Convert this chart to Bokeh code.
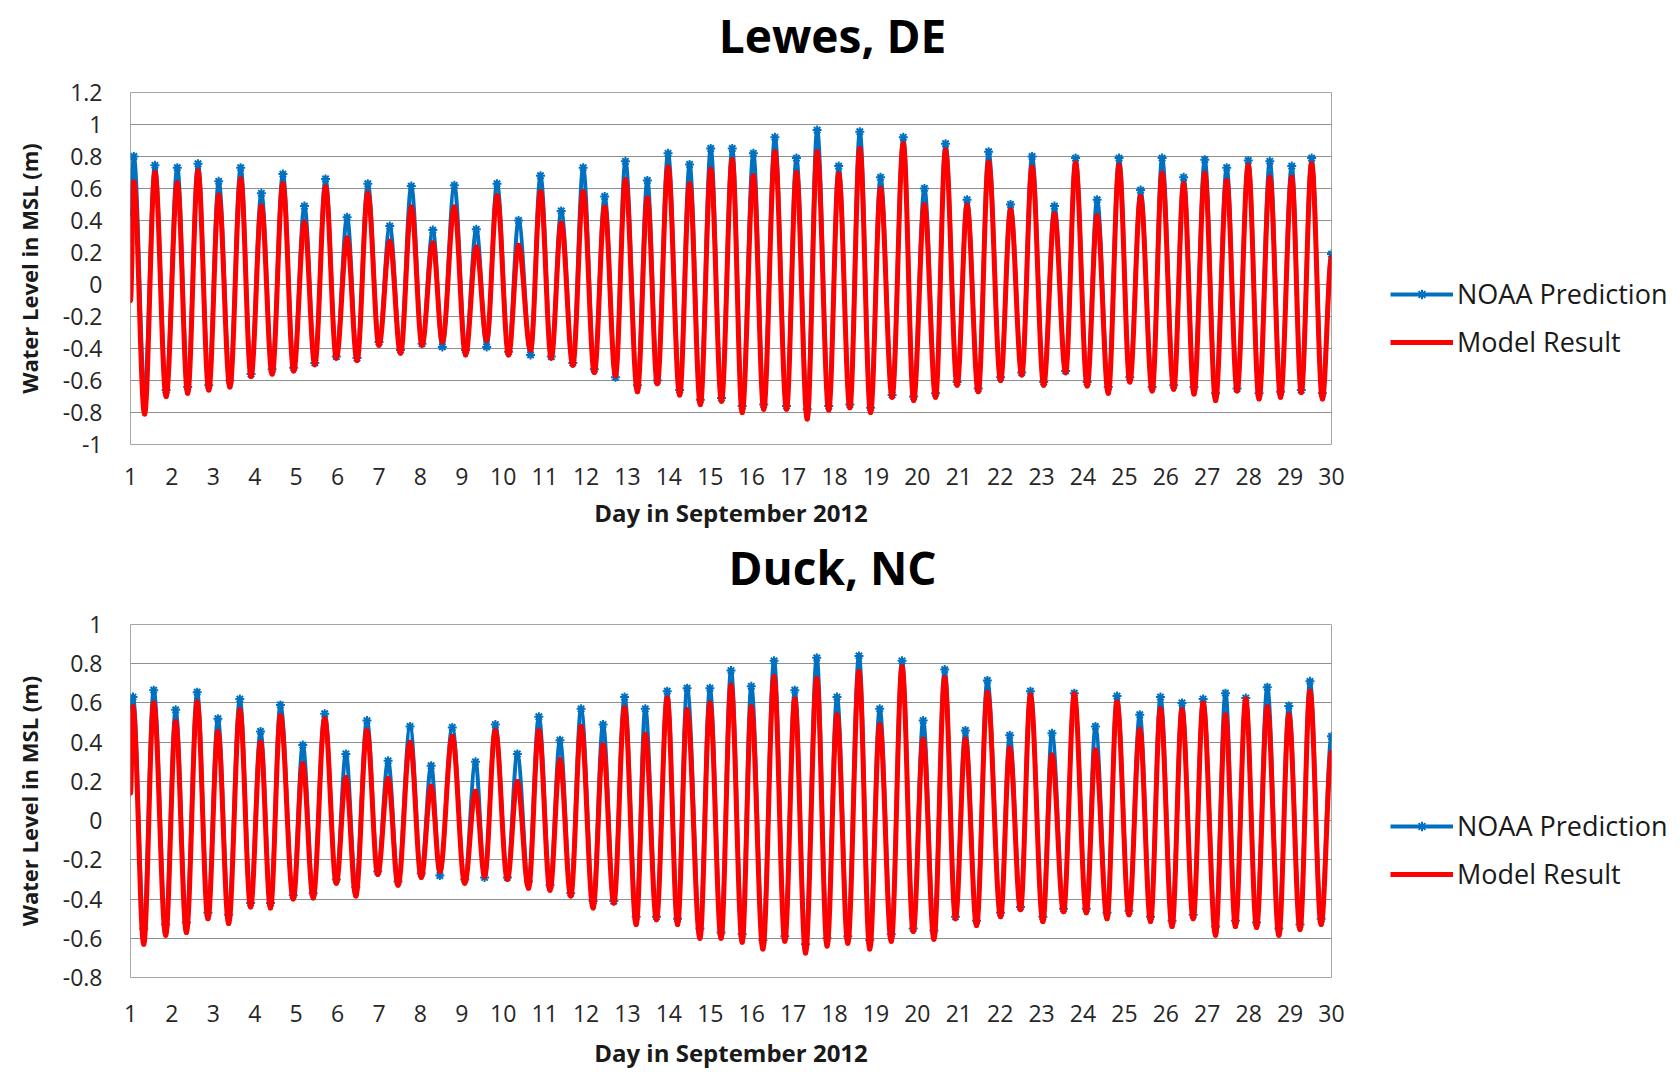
import numpy as np
from bokeh.plotting import figure
from bokeh.models import (ColumnDataSource, FixedTicker, CustomJSTickFormatter,
                          Legend, LegendItem, Range1d, LinearAxis)
from bokeh.layouts import column, row
from bokeh.embed import file_html
from bokeh.resources import INLINE

# ---------------- data ----------------
day_ticks = list(range(1, 31))
lewes_yticks = [-1, -0.8, -0.6, -0.4, -0.2, 0, 0.2, 0.4, 0.6, 0.8, 1, 1.2]
duck_yticks = [-0.8, -0.6, -0.4, -0.2, 0, 0.2, 0.4, 0.6, 0.8, 1]
series_names = ["NOAA Prediction", "Model Result"]

# times (day of September 2012) of successive high / low waters, Lewes DE
lewes_t = [1.00, 1.08, 1.34, 1.59, 1.86, 2.13, 2.38, 2.63, 2.89, 3.13, 3.40,
           3.66, 3.91, 4.16, 4.42, 4.68, 4.94, 5.20, 5.45, 5.71, 5.97,
           6.23, 6.47, 6.73, 7.00, 7.26, 7.52, 7.78, 8.04, 8.30, 8.53,
           8.82, 9.09, 9.35, 9.60, 9.85, 10.13, 10.37, 10.66, 10.90, 11.16,
           11.40, 11.68, 11.93, 12.20, 12.45, 12.71, 12.95, 13.24, 13.48, 13.72,
           13.98, 14.26, 14.50, 14.76, 15.01, 15.27, 15.53, 15.77, 16.04, 16.29,
           16.56, 16.84, 17.08, 17.34, 17.58, 17.86, 18.10, 18.37, 18.61, 18.87,
           19.11, 19.39, 19.66, 19.91, 20.17, 20.44, 20.68, 20.96, 21.20, 21.47,
           21.72, 22.01, 22.25, 22.52, 22.77, 23.05, 23.31, 23.58, 23.82, 24.10,
           24.34, 24.61, 24.87, 25.13, 25.39, 25.67, 25.91, 26.19, 26.43, 26.68,
           26.94, 27.20, 27.47, 27.72, 27.99, 28.25, 28.51, 28.77, 29.04, 29.27,
           29.52, 29.78, 30.00]
lewes_noaa = [0.44, 0.80, -0.66, 0.745, -0.66, 0.73, -0.64, 0.755, -0.63, 0.645, -0.60,
              0.73, -0.56, 0.57, -0.53, 0.69, -0.52, 0.49, -0.49, 0.66, -0.45,
              0.42, -0.46, 0.63, -0.36, 0.365, -0.41, 0.615, -0.37, 0.34, -0.39,
              0.62, -0.41, 0.345, -0.39, 0.63, -0.42, 0.40, -0.44, 0.68, -0.45,
              0.46, -0.49, 0.73, -0.53, 0.55, -0.58, 0.77, -0.63, 0.65, -0.60,
              0.82, -0.66, 0.75, -0.72, 0.85, -0.71, 0.85, -0.76, 0.82, -0.75,
              0.92, -0.76, 0.79, -0.78, 0.965, -0.76, 0.74, -0.75, 0.955, -0.77,
              0.67, -0.69, 0.92, -0.70, 0.60, -0.68, 0.88, -0.61, 0.53, -0.65,
              0.83, -0.58, 0.50, -0.55, 0.80, -0.61, 0.49, -0.54, 0.79, -0.61,
              0.53, -0.64, 0.79, -0.58, 0.59, -0.64, 0.79, -0.63, 0.67, -0.64,
              0.78, -0.68, 0.73, -0.65, 0.775, -0.68, 0.77, -0.67, 0.74, -0.66,
              0.79, -0.68, 0.19]
lewes_model = [-0.10, 0.64, -0.81, 0.70, -0.70, 0.635, -0.68, 0.71, -0.66, 0.56, -0.64,
               0.66, -0.575, 0.49, -0.56, 0.63, -0.54, 0.39, -0.50, 0.61, -0.46,
               0.29, -0.475, 0.57, -0.38, 0.27, -0.43, 0.485, -0.38, 0.26, -0.36,
               0.485, -0.44, 0.235, -0.35, 0.555, -0.44, 0.245, -0.41, 0.58, -0.46,
               0.385, -0.505, 0.58, -0.55, 0.485, -0.57, 0.655, -0.67, 0.54, -0.62,
               0.735, -0.69, 0.63, -0.75, 0.72, -0.73, 0.78, -0.80, 0.68, -0.78,
               0.83, -0.78, 0.70, -0.84, 0.83, -0.785, 0.69, -0.77, 0.85, -0.80,
               0.60, -0.705, 0.88, -0.725, 0.50, -0.705, 0.84, -0.63, 0.495, -0.67,
               0.765, -0.60, 0.465, -0.565, 0.735, -0.63, 0.44, -0.55, 0.76, -0.635,
               0.43, -0.68, 0.745, -0.61, 0.55, -0.665, 0.695, -0.655, 0.63, -0.685,
               0.695, -0.725, 0.65, -0.665, 0.745, -0.715, 0.67, -0.705, 0.67, -0.675,
               0.755, -0.715, 0.17]

# Duck NC
duck_t = [1.00, 1.06, 1.32, 1.56, 1.85, 2.09, 2.35, 2.61, 2.87, 3.11, 3.37,
          3.64, 3.90, 4.14, 4.38, 4.62, 4.93, 5.16, 5.41, 5.69, 5.97,
          6.20, 6.44, 6.71, 6.97, 7.22, 7.46, 7.75, 8.02, 8.26, 8.47,
          8.77, 9.07, 9.33, 9.55, 9.81, 10.10, 10.34, 10.61, 10.86, 11.13,
          11.37, 11.63, 11.88, 12.17, 12.41, 12.67, 12.93, 13.21, 13.43, 13.70,
          13.96, 14.21, 14.44, 14.75, 14.99, 15.26, 15.50, 15.77, 15.99, 16.27,
          16.54, 16.80, 17.04, 17.30, 17.57, 17.82, 18.06, 18.32, 18.59, 18.85,
          19.09, 19.37, 19.63, 19.90, 20.14, 20.40, 20.66, 20.92, 21.16, 21.43,
          21.69, 22.01, 22.23, 22.49, 22.73, 23.03, 23.25, 23.53, 23.79, 24.08,
          24.30, 24.58, 24.82, 25.11, 25.37, 25.63, 25.87, 26.15, 26.39, 26.66,
          26.90, 27.20, 27.44, 27.68, 27.93, 28.19, 28.45, 28.73, 28.97, 29.24,
          29.48, 29.75, 30.00]
duck_noaa = [0.58, 0.63, -0.55, 0.665, -0.53, 0.565, -0.52, 0.655, -0.47, 0.52, -0.48,
             0.62, -0.42, 0.455, -0.42, 0.59, -0.38, 0.385, -0.37, 0.545, -0.30,
             0.34, -0.34, 0.51, -0.26, 0.305, -0.31, 0.48, -0.27, 0.28, -0.28,
             0.475, -0.30, 0.30, -0.29, 0.49, -0.29, 0.34, -0.31, 0.53, -0.33,
             0.41, -0.37, 0.57, -0.41, 0.49, -0.41, 0.63, -0.49, 0.57, -0.49,
             0.66, -0.50, 0.675, -0.55, 0.675, -0.57, 0.765, -0.58, 0.685, -0.61,
             0.815, -0.59, 0.665, -0.63, 0.83, -0.60, 0.63, -0.59, 0.84, -0.61,
             0.57, -0.58, 0.815, -0.55, 0.51, -0.56, 0.77, -0.49, 0.46, -0.51,
             0.715, -0.47, 0.435, -0.44, 0.66, -0.49, 0.445, -0.45, 0.65, -0.45,
             0.48, -0.47, 0.635, -0.46, 0.54, -0.49, 0.63, -0.51, 0.60, -0.48,
             0.62, -0.54, 0.65, -0.51, 0.625, -0.52, 0.68, -0.55, 0.585, -0.53,
             0.71, -0.50, 0.43]
duck_model = [0.14, 0.58, -0.63, 0.60, -0.585, 0.505, -0.57, 0.605, -0.50, 0.455, -0.525,
              0.565, -0.44, 0.40, -0.445, 0.535, -0.40, 0.29, -0.395, 0.52, -0.32,
              0.22, -0.385, 0.46, -0.275, 0.215, -0.33, 0.40, -0.29, 0.175, -0.26,
              0.43, -0.32, 0.15, -0.285, 0.46, -0.30, 0.20, -0.345, 0.46, -0.355,
              0.31, -0.385, 0.48, -0.445, 0.385, -0.42, 0.575, -0.53, 0.44, -0.505,
              0.625, -0.53, 0.565, -0.60, 0.60, -0.60, 0.69, -0.62, 0.58, -0.655,
              0.735, -0.615, 0.62, -0.675, 0.725, -0.64, 0.54, -0.625, 0.76, -0.655,
              0.49, -0.615, 0.785, -0.565, 0.415, -0.605, 0.73, -0.50, 0.415, -0.535,
              0.655, -0.49, 0.37, -0.455, 0.64, -0.515, 0.335, -0.465, 0.645, -0.47,
              0.36, -0.50, 0.605, -0.48, 0.465, -0.515, 0.57, -0.54, 0.565, -0.50,
              0.60, -0.585, 0.54, -0.54, 0.62, -0.545, 0.58, -0.585, 0.54, -0.555,
              0.66, -0.53, 0.35]

# ---------------- styling ----------------
BLUE = "#0070C0"
RED = "#FF0000"
FONT = "Open Sans"
K = 0.36  # bezier handle fraction giving a smooth tide curve between extremes
NBSP = "\u00a0"


def curve_source(t, v):
    t = np.asarray(t, dtype=float)
    v = np.asarray(v, dtype=float)
    dt = np.diff(t)
    return ColumnDataSource(dict(
        x0=t[:-1], y0=v[:-1], x1=t[1:], y1=v[1:],
        cx0=t[:-1] + K * dt, cy0=v[:-1], cx1=t[1:] - K * dt, cy1=v[1:]))


def make_panel(title, t, noaa, model, yticks, height, b_top, b_bottom,
               title_standoff, tick_standoff, label_standoff):
    p = figure(width=1390, height=height,
               x_range=Range1d(1, 30), y_range=Range1d(min(yticks), max(yticks)),
               min_border_left=130, min_border_right=59,
               min_border_top=b_top, min_border_bottom=b_bottom,
               output_backend="svg", toolbar_location=None,
               background_fill_color="white", border_fill_color="white")
    p.outline_line_color = "#a6a6a6"
    p.outline_line_width = 1
    p.xgrid.visible = False
    p.ygrid.grid_line_color = "#8f8f8f"
    p.ygrid.grid_line_width = 1

    p.xaxis.ticker = FixedTicker(ticks=day_ticks)
    p.yaxis.ticker = FixedTicker(ticks=yticks)
    p.yaxis.formatter = CustomJSTickFormatter(code="return String(Math.round(tick*10)/10);")
    for ax in (p.xaxis[0], p.yaxis[0]):
        ax.axis_line_color = None
        ax.major_tick_line_color = None
        ax.minor_tick_line_color = None
        ax.major_tick_out = 0
        ax.major_tick_in = 0
        ax.major_label_text_font = FONT
        ax.major_label_text_font_size = "23px"
        ax.major_label_text_color = "#262626"
        ax.axis_label_text_font = FONT
        ax.axis_label_text_font_style = "bold"
        ax.axis_label_text_color = "#1a1a1a"
    p.xaxis.axis_label = "Day in September 2012"
    p.xaxis.axis_label_text_font_size = "24px"
    p.xaxis.major_label_standoff = tick_standoff
    p.xaxis.axis_label_standoff = label_standoff
    p.yaxis.axis_label = "Water Level in MSL (m)"
    p.yaxis.axis_label_text_font_size = "22px"
    p.yaxis.major_label_standoff = 28
    p.yaxis.axis_label_standoff = 16

    # chart title carried by a tick-less axis above the frame
    # (leading no-break spaces shift the centred text to the right, as in the original)
    tax = LinearAxis(ticker=FixedTicker(ticks=[]), axis_label=NBSP * 17 + title)
    tax.axis_line_color = None
    tax.major_tick_line_color = None
    tax.minor_tick_line_color = None
    tax.major_tick_out = 0
    tax.major_tick_in = 0
    tax.major_label_text_font_size = "0px"
    tax.axis_label_text_font = FONT
    tax.axis_label_text_font_style = "bold"
    tax.axis_label_text_font_size = "46px"
    tax.axis_label_text_color = "#000000"
    tax.axis_label_standoff = title_standoff
    p.add_layout(tax, "above")

    p.bezier(source=curve_source(t, noaa), x0="x0", y0="y0", x1="x1", y1="y1",
             cx0="cx0", cy0="cy0", cx1="cx1", cy1="cy1",
             line_color=BLUE, line_width=4, line_cap="round")
    p.scatter(t, noaa, marker="asterisk", size=9, line_color=BLUE, line_width=2)
    p.bezier(source=curve_source(t, model), x0="x0", y0="y0", x1="x1", y1="y1",
             cx0="cx0", cy0="cy0", cx1="cx1", cy1="cy1",
             line_color=RED, line_width=5, line_cap="round")
    return p


def make_legend(height, legend_y):
    # a narrow companion figure that only carries the legend
    lf = figure(width=290, height=height, x_range=Range1d(0, 1), y_range=Range1d(0, 1),
                min_border_left=0, min_border_right=0, min_border_top=0, min_border_bottom=0,
                output_backend="svg", toolbar_location=None,
                background_fill_color="white", border_fill_color="white")
    lf.axis.visible = False
    lf.grid.visible = False
    lf.outline_line_color = None
    # legend carriers, kept outside the visible range
    b_line = lf.line(x=[-3, -2], y=[-3, -2], line_color=BLUE, line_width=4)
    b_mark = lf.scatter(x=[-3], y=[-3], marker="asterisk", size=9, line_color=BLUE, line_width=2)
    r_line = lf.line(x=[-3, -2], y=[-3, -2], line_color=RED, line_width=5)
    legend = Legend(items=[LegendItem(label=series_names[0], renderers=[b_line, b_mark]),
                           LegendItem(label=series_names[1], renderers=[r_line])],
                    location=(0, legend_y), orientation="vertical",
                    padding=0, margin=0, spacing=11,
                    glyph_width=63, glyph_height=24, label_height=24, label_standoff=4,
                    border_line_color=None, background_fill_alpha=0,
                    label_text_font=FONT, label_text_font_size="27px",
                    label_text_color="#1a1a1a")
    lf.add_layout(legend)
    return lf


p1 = make_panel("Lewes, DE", lewes_t, lewes_noaa, lewes_model, lewes_yticks,
                height=532, b_top=92, b_bottom=88,
                title_standoff=27, tick_standoff=23, label_standoff=8)
p2 = make_panel("Duck, NC", duck_t, duck_noaa, duck_model, duck_yticks,
                height=540, b_top=92, b_bottom=95,
                title_standoff=27, tick_standoff=27, label_standoff=11)
l1 = make_legend(532, 84)
l2 = make_legend(540, 85)

layout = column(row(p1, l1, spacing=0), row(p2, l2, spacing=0), spacing=0)
open("out.html", "w").write(file_html(layout, INLINE))
